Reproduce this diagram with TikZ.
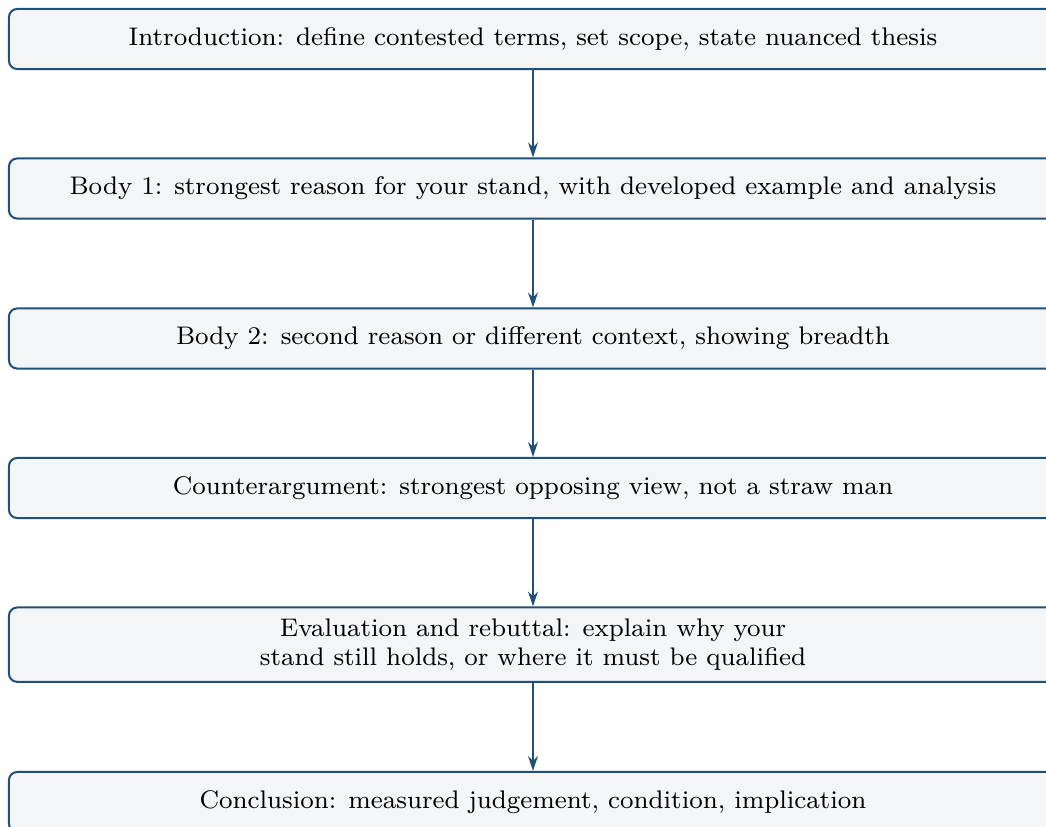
\documentclass[tikz,border=0pt]{standalone}
\usetikzlibrary{arrows.meta}
\definecolor{edgeblue}{RGB}{31,79,122}
\definecolor{boxfill}{RGB}{244,245,247}
\begin{document}
\begin{tikzpicture}[x=0.31447pt,y=-0.31447pt,
  stage/.style={draw=edgeblue, fill=boxfill, line width=0.63pt, rounded corners=2.6pt,
    minimum width=329.6pt, align=center, inner sep=3pt, text=black,
    font=\fontsize{8}{9}\selectfont},
  flow/.style={draw=edgeblue, line width=0.63pt, -{Stealth[length=4.7pt,width=3.1pt]}}]
\useasboundingbox (0,0) rectangle (1046,827);
\node[stage, minimum height=18.9pt] (n1) at (533,39) {Introduction: define contested terms, set scope, state nuanced thesis};
\node[stage, minimum height=18.9pt] (n2) at (533,188.5) {Body 1: strongest reason for your stand, with developed example and analysis};
\node[stage, minimum height=18.9pt] (n3) at (533,338.5) {Body 2: second reason or different context, showing breadth};
\node[stage, minimum height=18.9pt] (n4) at (533,488) {Counterargument: strongest opposing view, not a straw man};
\node[stage, minimum height=23.4pt] (n5) at (533,644.7) {Evaluation and rebuttal: explain why your\\stand still holds, or where it must be qualified};
\node[stage, minimum height=18.9pt] (n6) at (533,802) {Conclusion: measured judgement, condition, implication};
\draw[flow] (n1) -- (n2);
\draw[flow] (n2) -- (n3);
\draw[flow] (n3) -- (n4);
\draw[flow] (n4) -- (n5);
\draw[flow] (n5) -- (n6);
\end{tikzpicture}
\end{document}
